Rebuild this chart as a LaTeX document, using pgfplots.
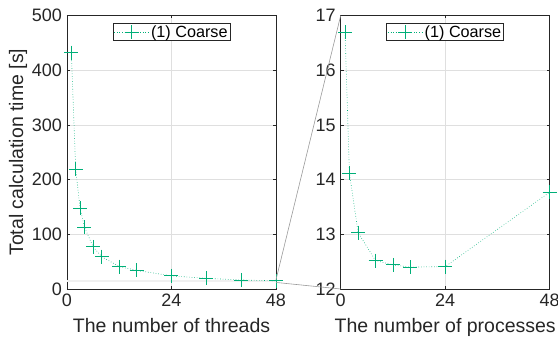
\documentclass[border=0pt]{standalone}
\usepackage{pgfplots}
\pgfplotsset{compat=1.18}
\usepackage{fontspec}
\setmainfont{Liberation Sans}
\definecolor{ser}{RGB}{0,175,120}
\definecolor{txt}{RGB}{38,38,38}
\definecolor{gridc}{RGB}{223,223,223}
\pgfplotsset{
  mstyle/.style={
    scale only axis, width=209bp, height=273.5bp,
    xmin=0, xmax=48, xtick={0,24,48},
    axis line style={draw=txt, line width=0.6bp},
    tick align=inside, tick pos=both,
    major tick length=2.8bp,
    every tick/.style={draw=txt, line width=0.6bp},
    grid=major, grid style={draw=gridc, line width=0.6bp},
    /pgf/number format/assume math mode=true,
    ticklabel style={font=\fontsize{18bp}{20bp}\selectfont, text=txt},
    label style={font=\fontsize{19.5bp}{22bp}\selectfont, text=txt},
    xticklabel style={yshift=-1bp},
    yticklabel style={xshift=-1.5bp},
    legend style={at={(0.5,1)}, anchor=north, yshift=-7.6bp, draw=txt, line width=0.6bp,
      font=\fontsize{16.2bp}{17bp}\selectfont, text=black,
      inner xsep=1bp, inner ysep=0.5bp,
      nodes={inner sep=1.5bp}},
    legend image code/.code={
      \draw[mark repeat=2,mark phase=2,##1] plot coordinates {(0bp,0bp) (17.5bp,0bp) (35bp,0bp)};},
    legend cell align=left,
  },
  ser/.style={color=ser, dotted, line width=0.6bp, mark=+, mark size=7bp,
    mark options={solid, draw=ser, line width=0.9bp}},
}
\begin{document}
\begin{tikzpicture}
\begin{axis}[mstyle, name=L, at={(0bp,0bp)}, anchor=south west,
  ymin=0, ymax=500, ytick={0,100,200,300,400,500},
  xlabel={The number of threads}, ylabel={Total calculation time [s]},
  xlabel style={yshift=-5bp}, ylabel style={yshift=-2bp}]
\fill[gray!12] (axis cs:0,12) rectangle (axis cs:48,17);
\addplot[ser] coordinates {(1,432) (2,219) (3,148) (4,113) (6,77) (8,59) (12,41) (16,34) (24,24) (32,19.5) (40,16.5) (48,15)};
\addlegendentry{(1) Coarse}
\coordinate (A1) at (axis cs:48,17);
\coordinate (A2) at (axis cs:48,12);
\end{axis}
\begin{axis}[mstyle, name=R, at={(273.7bp,0bp)}, anchor=south west,
  ymin=12, ymax=17, ytick={12,13,14,15,16,17},
  xlabel={The number of processes}, xlabel style={yshift=-5bp}]
\addplot[ser] coordinates {(1,16.69) (2,14.12) (4,13.03) (8,12.52) (12,12.44) (16,12.40) (24,12.41) (48,13.77)};
\addlegendentry{(1) Coarse}
\coordinate (B1) at (axis cs:0,17);
\coordinate (B2) at (axis cs:0,12);
\end{axis}
\draw[gray!80, line width=0.6bp] (A1) -- (B1);
\draw[gray!80, line width=0.6bp] (A2) -- (B2);
\pgfresetboundingbox
\path[use as bounding box] (-67bp,-51bp) rectangle (491bp,289bp);
\end{tikzpicture}
\end{document}
